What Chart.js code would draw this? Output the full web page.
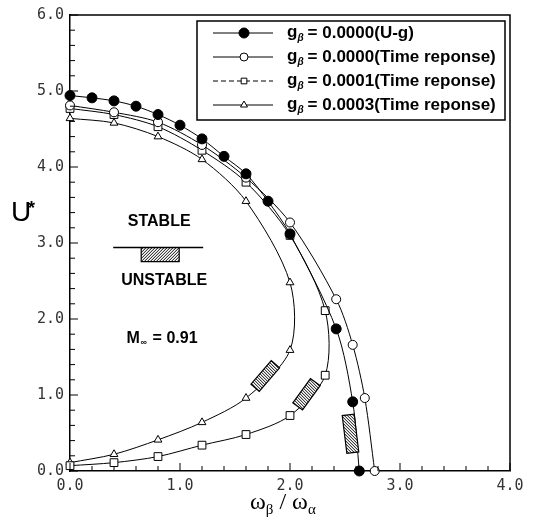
<!DOCTYPE html>
<html>
<head>
<meta charset="utf-8">
<script src="https://cdn.jsdelivr.net/npm/chart.js@4"></script>
<style>
  html, body { margin: 0; padding: 0; background: #fff; }
  #wrap { width: 535px; height: 528px; }
</style>
</head>
<body>
<div id="wrap"><canvas id="flutter" width="535" height="528"></canvas></div>
<script>
// frequency ratio (x) and flutter speed U* (y)
const ugX = [0, 0.2, 0.4, 0.6, 0.8, 1.0, 1.2, 1.4, 1.6, 1.8, 2.0, 2.42, 2.57, 2.63];
const ugY = [4.94, 4.91, 4.87, 4.80, 4.69, 4.55, 4.37, 4.14, 3.91, 3.55, 3.12, 1.87, 0.91, 0.0];

const g0X = [0, 0.4, 0.8, 1.2, 1.6, 2.0, 2.42, 2.57, 2.68, 2.77];
const g0Y = [4.81, 4.72, 4.59, 4.29, 3.86, 3.27, 2.26, 1.66, 0.96, 0.0];

const g1X = [0, 0.4, 0.8, 1.2, 1.6, 2.0, 2.32, 2.32, 2.0, 1.6, 1.2, 0.8, 0.4, 0];
const g1Y = [4.77, 4.69, 4.53, 4.22, 3.80, 3.10, 2.11, 1.26, 0.73, 0.48, 0.34, 0.19, 0.11, 0.07];

const g3X = [0, 0.4, 0.8, 1.2, 1.6, 2.0, 2.0, 1.6, 1.2, 0.8, 0.4, 0];
const g3Y = [4.64, 4.58, 4.40, 4.10, 3.55, 2.48, 1.59, 0.96, 0.64, 0.41, 0.22, 0.11];

const seriesLabels = ['0.0000(U-g)', '0.0000(Time reponse)', '0.0001(Time reponse)', '0.0003(Time reponse)'];

const xMajor = [0, 1, 2, 3, 4];
const yMajor = [0, 1, 2, 3, 4, 5, 6];

// hatched "unstable side" marks on the curves: [x, y, angle deg, length, thickness]
const hatchMarks = [
  [1.775, 1.25, -49, 31, 11],
  [2.15, 1.01, -54, 30, 12],
  [2.55, 0.49, 83, 38, 12]
];

const toPts = (xs, ys) => xs.map((x, i) => ({ x: x, y: ys[i] }));

function hatchBox(ctx, cx, cy, ang, len, thick, dir) {
  const m = ctx.getTransform();
  ctx.save();
  ctx.translate(cx, cy);
  ctx.rotate(ang * Math.PI / 180);
  ctx.beginPath();
  ctx.rect(-len / 2, -thick / 2, len, thick);
  ctx.fillStyle = '#fff';
  ctx.fill();
  ctx.lineWidth = 1.2;
  ctx.strokeStyle = '#000';
  ctx.stroke();
  ctx.clip();
  ctx.setTransform(m);
  ctx.lineWidth = 1;
  ctx.beginPath();
  const R = 30;
  for (let t = -2 * R; t <= 2 * R; t += 3) {
    ctx.moveTo(cx - R + t, cy - R * dir);
    ctx.lineTo(cx + R + t, cy + R * dir);
  }
  ctx.stroke();
  ctx.restore();
}

function marker(ctx, style, filled, x, y, r) {
  ctx.beginPath();
  if (style === 'circle') {
    ctx.arc(x, y, r, 0, Math.PI * 2);
  } else if (style === 'rect') {
    const s = r * Math.SQRT1_2;
    ctx.rect(x - s, y - s, 2 * s, 2 * s);
  } else {
    ctx.moveTo(x, y - r);
    ctx.lineTo(x + r * 0.87, y + r * 0.5);
    ctx.lineTo(x - r * 0.87, y + r * 0.5);
    ctx.closePath();
  }
  ctx.fillStyle = filled ? '#000' : '#fff';
  ctx.fill();
  ctx.lineWidth = 1;
  ctx.strokeStyle = '#000';
  ctx.stroke();
}

const decor = {
  id: 'decor',
  afterDatasetsDraw(chart) {
    const ctx = chart.ctx;
    const a = chart.chartArea;
    const xs = chart.scales.x, ys = chart.scales.y;
    ctx.save();

    // frame top + right
    ctx.strokeStyle = '#000';
    ctx.lineWidth = 1.5;
    ctx.beginPath();
    ctx.moveTo(a.left, a.top);
    ctx.lineTo(a.right, a.top);
    ctx.lineTo(a.right, a.bottom);
    ctx.stroke();

    // inward ticks every 0.2
    ctx.lineWidth = 1;
    ctx.beginPath();
    xs.ticks.forEach(t => {
      const px = xs.getPixelForValue(t.value);
      const major = xMajor.some(v => Math.abs(v - t.value) < 1e-6);
      ctx.moveTo(px, a.bottom);
      ctx.lineTo(px, a.bottom - (major ? 8 : 5));
    });
    ys.ticks.forEach(t => {
      const py = ys.getPixelForValue(t.value);
      const major = yMajor.some(v => Math.abs(v - t.value) < 1e-6);
      ctx.moveTo(a.left, py);
      ctx.lineTo(a.left + (major ? 8 : 5), py);
    });
    ctx.stroke();

    // hatched marks on curves
    hatchMarks.forEach(h => {
      hatchBox(ctx, xs.getPixelForValue(h[0]), ys.getPixelForValue(h[1]), h[2], h[3], h[4], 1);
    });

    // stable / unstable key
    ctx.fillStyle = '#000';
    ctx.textAlign = 'center';
    ctx.textBaseline = 'middle';
    ctx.font = 'bold 16px "Liberation Sans", Arial, sans-serif';
    const kx = xs.getPixelForValue(0.82);
    const ky = ys.getPixelForValue(2.94);
    ctx.fillText('STABLE', kx - 1, ky - 26);
    ctx.fillText('UNSTABLE', kx + 4, ky + 33);
    ctx.lineWidth = 1.5;
    ctx.beginPath();
    ctx.moveTo(kx - 47, ky);
    ctx.lineTo(kx + 43, ky);
    ctx.stroke();
    hatchBox(ctx, kx, ky + 7, 0, 38, 14, -1);

    // Mach number
    const mx = xs.getPixelForValue(0.86);
    const my = ys.getPixelForValue(1.74);
    ctx.textAlign = 'left';
    ctx.font = 'bold 16px "Liberation Sans", Arial, sans-serif';
    ctx.fillText('M', mx - 38, my);
    ctx.font = 'bold 9px "Liberation Sans", Arial, sans-serif';
    ctx.fillText('\u221E', mx - 24, my + 4);
    ctx.font = 'bold 16px "Liberation Sans", Arial, sans-serif';
    ctx.fillText('= 0.91', mx - 12, my);

    // axis titles
    ctx.font = '28px "Liberation Sans", Arial, sans-serif';
    ctx.textBaseline = 'alphabetic';
    ctx.fillText('U', 11, 221);
    ctx.font = 'bold 18px "Liberation Sans", Arial, sans-serif';
    ctx.fillText('*', 28, 214);

    const tx = (a.left + a.right) / 2 - 40;
    const tb = 509;
    ctx.font = '24px "Liberation Serif", "DejaVu Serif", serif';
    let cx = tx;
    ctx.fillText('\u03C9', cx, tb); cx += ctx.measureText('\u03C9').width;
    ctx.font = '15px "Liberation Serif", "DejaVu Serif", serif';
    ctx.fillText('\u03B2', cx, tb + 5); cx += ctx.measureText('\u03B2').width;
    ctx.font = '24px "Liberation Serif", "DejaVu Serif", serif';
    ctx.fillText(' / ', cx, tb); cx += ctx.measureText(' / ').width;
    ctx.fillText('\u03C9', cx, tb); cx += ctx.measureText('\u03C9').width;
    ctx.font = '15px "Liberation Serif", "DejaVu Serif", serif';
    ctx.fillText('\u03B1', cx, tb + 5);

    // legend box
    const lr = a.right - 5, lt = a.top + 6, ll = 197, lb = 120;
    ctx.fillStyle = '#fff';
    ctx.fillRect(ll, lt, lr - ll, lb - lt);
    ctx.lineWidth = 1.5;
    ctx.strokeStyle = '#000';
    ctx.strokeRect(ll, lt, lr - ll, lb - lt);
    const rows = [33, 57, 81, 105];
    chart.data.datasets.forEach((ds, i) => {
      const y = rows[i];
      ctx.lineWidth = 1;
      ctx.setLineDash(i === 2 ? [5, 3] : []);
      ctx.beginPath();
      ctx.moveTo(213, y);
      ctx.lineTo(273, y);
      ctx.stroke();
      ctx.setLineDash([]);
      marker(ctx, ds.pointStyle, ds.pointBackgroundColor === '#000', 244, y, i === 0 ? 5 : 4);
      ctx.fillStyle = '#000';
      ctx.textBaseline = 'middle';
      let x = 287;
      ctx.font = 'bold 17px "Liberation Sans", Arial, sans-serif';
      ctx.fillText('g', x, y - 1); x += ctx.measureText('g').width;
      ctx.font = 'italic bold 10px "Liberation Sans", Arial, sans-serif';
      ctx.fillText('\u03B2', x, y + 5); x += ctx.measureText('\u03B2').width + 4;
      ctx.font = 'bold 17px "Liberation Sans", Arial, sans-serif';
      ctx.fillText('= ' + seriesLabels[i], x, y);
    });
    ctx.restore();
  }
};

const common = {
  showLine: true,
  borderColor: '#000',
  borderWidth: 1,
  pointBorderColor: '#000',
  pointBorderWidth: 1,
  tension: 0.3,
  clip: false
};

new Chart(document.getElementById('flutter'), {
  type: 'scatter',
  data: {
    datasets: [
      Object.assign({ data: toPts(ugX, ugY), pointStyle: 'circle', pointRadius: 5, pointBackgroundColor: '#000' }, common),
      Object.assign({ data: toPts(g0X, g0Y), pointStyle: 'circle', pointRadius: 4.5, pointBackgroundColor: '#fff' }, common),
      Object.assign({ data: toPts(g1X, g1Y), pointStyle: 'rect', pointRadius: 5.5, pointBackgroundColor: '#fff' }, common),
      Object.assign({ data: toPts(g3X, g3Y), pointStyle: 'triangle', pointRadius: 4.5, pointBackgroundColor: '#fff' }, common)
    ]
  },
  options: {
    responsive: false,
    animation: false,
    layout: { padding: { top: 10, right: 25, left: 0, bottom: 0 } },
    plugins: { legend: { display: false }, tooltip: { enabled: false } },
    scales: {
      x: {
        type: 'linear', min: 0, max: 4,
        afterFit: s => { s.height = 57; },
        grid: { drawOnChartArea: false, drawTicks: false },
        border: { display: true, color: '#000', width: 1.5 },
        ticks: {
          stepSize: 0.2, autoSkip: false, maxRotation: 0, padding: 6,
          color: '#333', font: { family: '"DejaVu Sans Mono", monospace', size: 15 },
          callback: v => xMajor.some(m => Math.abs(m - v) < 1e-6) ? v.toFixed(1) : ''
        }
      },
      y: {
        type: 'linear', min: 0, max: 6,
        afterFit: s => { s.width = 70; },
        grid: { drawOnChartArea: false, drawTicks: false },
        border: { display: true, color: '#000', width: 1.5 },
        ticks: {
          stepSize: 0.2, autoSkip: false, padding: 6,
          color: '#333', font: { family: '"DejaVu Sans Mono", monospace', size: 15 },
          callback: v => yMajor.some(m => Math.abs(m - v) < 1e-6) ? v.toFixed(1) : ''
        }
      }
    }
  },
  plugins: [decor]
});
</script>
</body>
</html>
